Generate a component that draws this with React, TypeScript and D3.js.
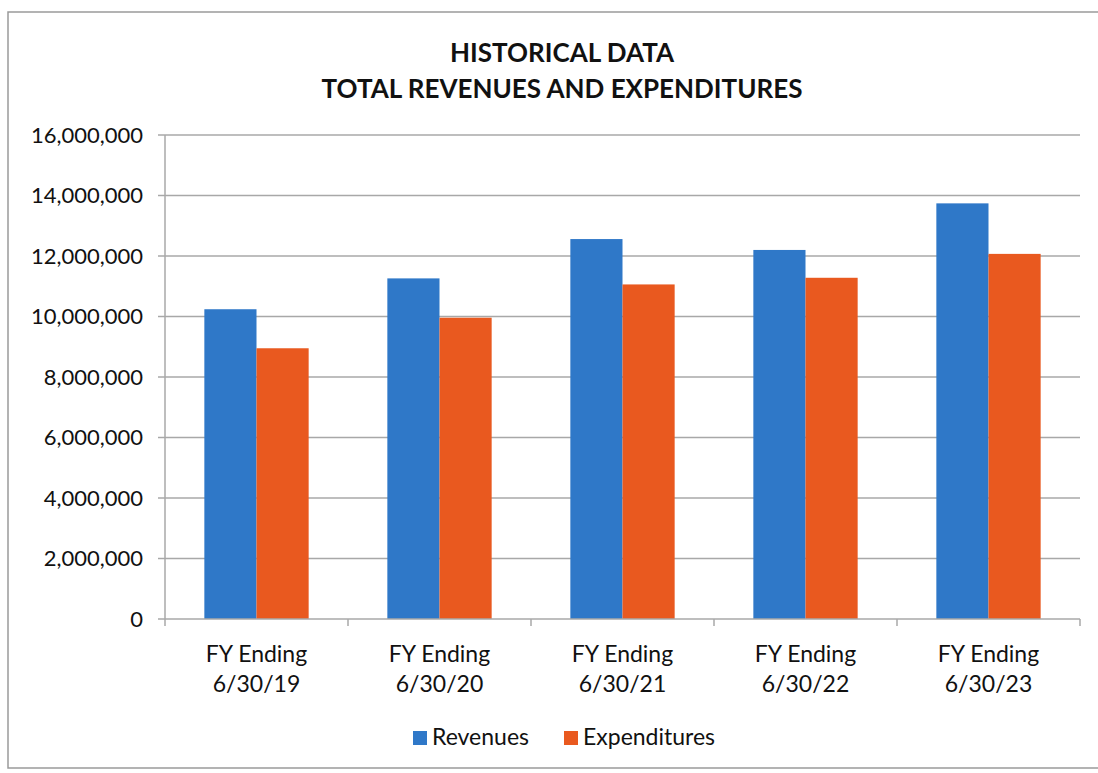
import React from "react";
import * as d3 from "d3";

const categoryLine1 = ["FY Ending", "FY Ending", "FY Ending", "FY Ending", "FY Ending"];
const categoryLine2 = ["6/30/19", "6/30/20", "6/30/21", "6/30/22", "6/30/23"];
const seriesNames = ["Revenues", "Expenditures"];
const revenues = [10240000, 11260000, 12560000, 12200000, 13740000];
const expenditures = [8950000, 9960000, 11060000, 11280000, 12070000];
const yTicks = [0, 2000000, 4000000, 6000000, 8000000, 10000000, 12000000, 14000000, 16000000];
const titleLines = ["HISTORICAL DATA", "TOTAL REVENUES AND EXPENDITURES"];
const colors = ["#2F78C8", "#E9591F"];

const W = 1098;
const H = 773;
const plotLeft = 165;
const plotRight = 1080;
const plotTop = 135;
const plotBottom = 619;
const font = "Lato, 'Open Sans', sans-serif";

export default function App() {
  const x0 = d3
    .scaleBand<number>()
    .domain(d3.range(categoryLine2.length))
    .range([plotLeft, plotRight])
    .paddingInner(0.43)
    .paddingOuter(0.215);
  const x1 = d3.scaleBand<number>().domain([0, 1]).range([0, x0.bandwidth()]);
  const y = d3.scaleLinear().domain([0, 16000000]).range([plotBottom, plotTop]);
  const fmt = d3.format(",");
  const seriesValues = [revenues, expenditures];
  const step = x0.step();

  return (
    <svg
      width={W}
      height={H}
      style={{ position: "absolute", left: 0, top: 0, background: "#fff" }}
    >
      {/* border */}
      <path d={`M ${W} 12 L 8 12 L 8 768 L ${W} 768`} fill="none" stroke="#9a9a9a" strokeWidth={1.5} />
      {/* title */}
      {titleLines.map((t, i) => (
        <text
          key={i}
          x={562}
          y={62 + i * 36}
          textAnchor="middle"
          fontFamily={font}
          fontWeight={700}
          fontSize={26}
          fill="#111"
        >
          {t}
        </text>
      ))}
      {/* gridlines and y ticks */}
      {yTicks.map((v) => (
        <g key={v}>
          {v !== 0 && (
            <line x1={plotLeft} x2={plotRight} y1={y(v)} y2={y(v)} stroke="#a8a8a8" strokeWidth={1.5} />
          )}
          <line x1={plotLeft - 7} x2={plotLeft} y1={y(v)} y2={y(v)} stroke="#a8a8a8" strokeWidth={1.5} />
          <text
            x={143}
            y={y(v)}
            dy="0.36em"
            textAnchor="end"
            fontFamily={font}
            fontSize={22}
            fill="#111"
          >
            {fmt(v)}
          </text>
        </g>
      ))}
      {/* bars */}
      {seriesValues.map((vals, s) =>
        vals.map((v, i) => (
          <rect
            key={`${s}-${i}`}
            x={(x0(i) as number) + (x1(s) as number)}
            y={y(v)}
            width={x1.bandwidth()}
            height={plotBottom - y(v)}
            fill={colors[s]}
          />
        ))
      )}
      {/* axes */}
      <line x1={plotLeft} x2={plotLeft} y1={plotTop} y2={plotBottom} stroke="#a8a8a8" strokeWidth={1.5} />
      <line x1={plotLeft} x2={plotRight} y1={plotBottom} y2={plotBottom} stroke="#a8a8a8" strokeWidth={1.5} />
      {d3.range(categoryLine2.length + 1).map((i) => (
        <line
          key={i}
          x1={plotLeft + i * step}
          x2={plotLeft + i * step}
          y1={plotBottom}
          y2={plotBottom + 7}
          stroke="#a8a8a8"
          strokeWidth={1.5}
        />
      ))}
      {/* category labels */}
      {categoryLine2.map((c, i) => {
        const cx = (x0(i) as number) + x0.bandwidth() / 2;
        return (
          <g key={c}>
            <text x={cx} y={662} textAnchor="middle" fontFamily={font} fontSize={23} fill="#111">
              {categoryLine1[i]}
            </text>
            <text x={cx} y={692} textAnchor="middle" fontFamily={font} fontSize={23} fill="#111">
              {c}
            </text>
          </g>
        );
      })}
      {/* legend */}
      {seriesNames.map((n, i) => {
        const lx = [413, 564][i];
        return (
          <g key={n}>
            <rect x={lx} y={731} width={14} height={14} fill={colors[i]} />
            <text x={lx + 19} y={745} fontFamily={font} fontSize={23} fill="#111">
              {n}
            </text>
          </g>
        );
      })}
    </svg>
  );
}
